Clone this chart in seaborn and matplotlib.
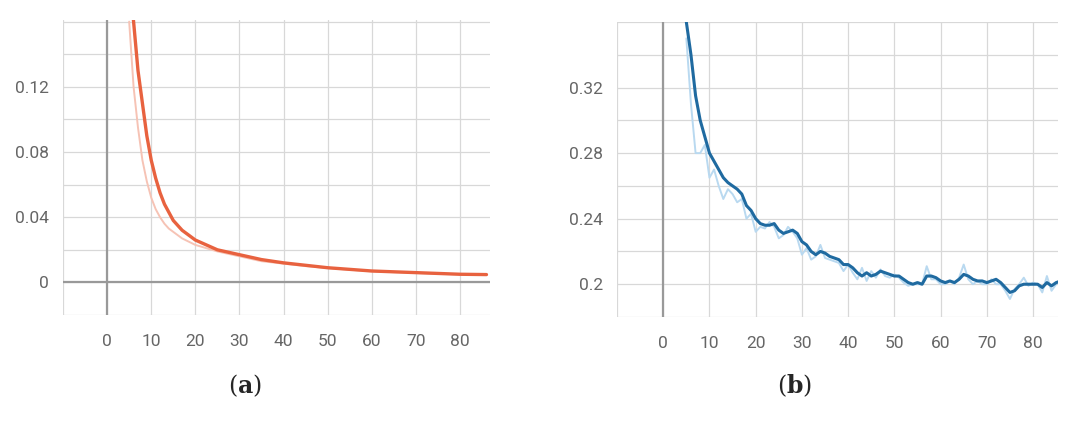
import numpy as np
import pandas as pd
import matplotlib
matplotlib.use('Agg')
import matplotlib.pyplot as plt
import seaborn as sns

sns.set_theme(style='white')
plt.rcParams['font.family'] = ['Roboto', 'DejaVu Sans']

# panel (a): smoothed loss and faint raw loss
a_steps = [5, 6, 7, 8, 9, 10, 11, 12, 13, 14, 15, 17, 20, 25, 30, 35, 40, 45, 50, 55, 60, 65, 70, 75, 80, 86]
a_smooth = [0.19, 0.16, 0.13, 0.11, 0.09, 0.075, 0.064, 0.055, 0.048, 0.043, 0.038, 0.032, 0.026, 0.020, 0.017,
            0.014, 0.012, 0.0105, 0.009, 0.008, 0.007, 0.0065, 0.006, 0.0055, 0.005, 0.0048]
a_raw = [0.16, 0.12, 0.095, 0.075, 0.062, 0.052, 0.045, 0.040, 0.036, 0.033, 0.031, 0.027, 0.023, 0.019, 0.016,
         0.013, 0.0115, 0.010, 0.0088, 0.0078, 0.0068, 0.0063, 0.0058, 0.0053, 0.0049, 0.0047]

# panel (b): smoothed and raw metric
b_steps = list(range(5, 87))
b_smooth = [0.36, 0.34, 0.315, 0.30, 0.29, 0.28, 0.275, 0.27, 0.265, 0.262, 0.26, 0.258, 0.255, 0.248, 0.245,
            0.24, 0.237, 0.236, 0.236, 0.237, 0.233, 0.231, 0.232, 0.233, 0.231, 0.226, 0.224, 0.22, 0.218,
            0.22, 0.219, 0.217, 0.216, 0.215, 0.212, 0.212, 0.21, 0.207, 0.205, 0.207, 0.205, 0.206, 0.208,
            0.207, 0.206, 0.205, 0.205, 0.203, 0.201, 0.2, 0.201, 0.2, 0.205, 0.205, 0.204, 0.202, 0.201,
            0.202, 0.201, 0.203, 0.206, 0.205, 0.203, 0.202, 0.202, 0.201, 0.202, 0.203, 0.201, 0.198, 0.195,
            0.196, 0.199, 0.2, 0.2, 0.2, 0.2, 0.198, 0.201, 0.199, 0.201, 0.202]
b_raw = [0.35, 0.31, 0.28, 0.28, 0.285, 0.265, 0.27, 0.26, 0.252, 0.258, 0.255, 0.25, 0.252, 0.24, 0.243,
         0.232, 0.235, 0.234, 0.238, 0.235, 0.228, 0.23, 0.235, 0.232, 0.228, 0.218, 0.222, 0.215, 0.217,
         0.224, 0.216, 0.215, 0.214, 0.213, 0.208, 0.212, 0.207, 0.203, 0.21, 0.202, 0.208, 0.204, 0.209,
         0.205, 0.204, 0.206, 0.204, 0.201, 0.199, 0.2, 0.2, 0.2, 0.211, 0.203, 0.203, 0.2, 0.2, 0.202,
         0.2, 0.204, 0.212, 0.203, 0.2, 0.202, 0.2, 0.2, 0.203, 0.2, 0.2, 0.196, 0.191, 0.197, 0.2,
         0.204, 0.199, 0.201, 0.2, 0.195, 0.205, 0.196, 0.2, 0.203]

a_df = pd.DataFrame({'step': a_steps, 'smooth': a_smooth, 'raw': a_raw})
b_df = pd.DataFrame({'step': b_steps, 'smooth': b_smooth, 'raw': b_raw})

fig = plt.figure(figsize=(10.75, 4.24), dpi=100)
ax1 = fig.add_axes([63 / 1075, 109 / 424, 427 / 1075, 295 / 424])
ax2 = fig.add_axes([617 / 1075, 107 / 424, 441 / 1075, 295 / 424])


def style_axis(ax, xlim, ylim, yticks, ylabels, ygrid, zero_h):
    ax.set_xlim(*xlim)
    ax.set_ylim(*ylim)
    ax.set_xticks(range(0, 90, 10))
    ax.set_xticks(range(-10, 90, 10), minor=True)
    ax.set_yticks(yticks)
    ax.set_yticklabels(ylabels)
    ax.set_yticks(ygrid, minor=True)
    ax.grid(True, which='both', color='#d8d8d8', lw=0.9)
    ax.tick_params(which='both', length=0, colors='#666666', labelsize=12.5)
    ax.tick_params(axis='x', pad=14)
    ax.tick_params(axis='y', pad=10)
    for s in ax.spines.values():
        s.set_visible(False)
    ax.axvline(0, color='#999999', lw=1.6, zorder=1)
    if zero_h:
        ax.axhline(0, color='#999999', lw=1.6, zorder=1)
    ax.set_xlabel('')
    ax.set_ylabel('')


sns.lineplot(data=a_df, x='step', y='raw', ax=ax1, color='#f6c3b5', lw=1.4)
sns.lineplot(data=a_df, x='step', y='smooth', ax=ax1, color='#e8623f', lw=2.4)
style_axis(ax1, (-10, 86.8), (-0.02, 0.161), [0, 0.04, 0.08, 0.12], ['0', '0.04', '0.08', '0.12'],
           np.arange(-0.02, 0.17, 0.02), True)

sns.lineplot(data=b_df, x='step', y='raw', ax=ax2, color='#b9d9f0', lw=1.4)
sns.lineplot(data=b_df, x='step', y='smooth', ax=ax2, color='#1f6aa0', lw=2.2)
style_axis(ax2, (-10, 85.4), (0.181, 0.359), [0.2, 0.24, 0.28, 0.32], ['0.2', '0.24', '0.28', '0.32'],
           np.arange(0.18, 0.37, 0.02), False)

plt.rcParams['mathtext.fontset'] = 'dejavuserif'
fig.text(245 / 1075, 1 - 386 / 424, r'($\mathbf{a}$)', ha='center', va='center', fontsize=17, family='DejaVu Serif')
fig.text(795 / 1075, 1 - 386 / 424, r'($\mathbf{b}$)', ha='center', va='center', fontsize=17, family='DejaVu Serif')

fig.savefig('out.png', dpi=100)
